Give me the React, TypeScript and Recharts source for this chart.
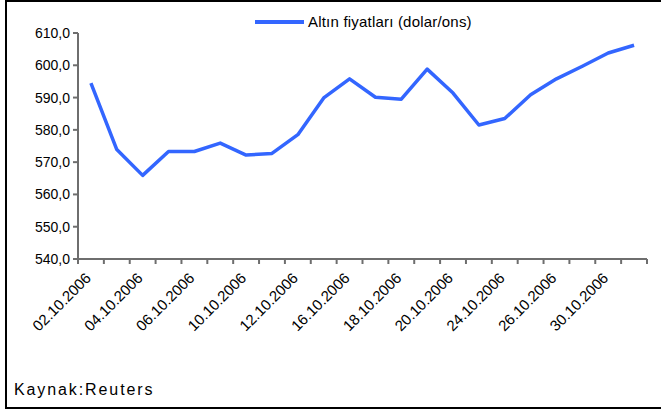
import React from 'react';
import { LineChart, Line, XAxis, YAxis, Legend } from 'recharts';

const dates = [
  '02.10.2006', '03.10.2006', '04.10.2006', '05.10.2006', '06.10.2006',
  '09.10.2006', '10.10.2006', '11.10.2006', '12.10.2006', '13.10.2006',
  '16.10.2006', '17.10.2006', '18.10.2006', '19.10.2006', '20.10.2006',
  '23.10.2006', '24.10.2006', '25.10.2006', '26.10.2006', '27.10.2006',
  '30.10.2006', '31.10.2006',
];
const prices = [
  594.5, 573.9, 565.9, 573.3, 573.3,
  575.9, 572.2, 572.7, 578.5, 589.9,
  595.8, 590.1, 589.5, 598.8, 591.4,
  581.5, 583.5, 590.9, 595.8, 599.7,
  603.8, 606.2,
];
const yTicks = [540, 550, 560, 570, 580, 590, 600, 610];
const seriesName = 'Altın fiyatları (dolar/ons)';
const sourceText = 'Kaynak:Reuters';

const data = dates.map((d, i) => ({ date: d, price: prices[i] }));

const FONT = '"Liberation Sans", Arial, sans-serif';
const W = 661;
const H = 410;
const MARGIN = { top: 33, right: 14, bottom: 61, left: 0 };
const Y_W = 78;
const X_H = 90;
const PLOT_W = W - MARGIN.left - MARGIN.right - Y_W;
const BAND = PLOT_W / dates.length;
const AXIS_COLOR = '#6e6e6e';

const XTick = (props: any) => {
  const { x, y, index, payload } = props;
  const half = BAND / 2;
  const ax = x + 1;
  const ay = y + 20;
  return (
    <g>
      {index === 0 && (
        <line x1={x - half} x2={x - half} y1={y} y2={y + 5} stroke={AXIS_COLOR} strokeWidth={2} />
      )}
      <line x1={x + half} x2={x + half} y1={y} y2={y + 5} stroke={AXIS_COLOR} strokeWidth={2} />
      {index % 2 === 0 && (
        <text
          x={ax}
          y={ay}
          textAnchor="end"
          transform={`rotate(-45, ${ax}, ${ay})`}
          fontSize={15}
          fontFamily={FONT}
          fill="#000"
        >
          {payload.value}
        </text>
      )}
    </g>
  );
};

const LegendContent = (props: any) => {
  const { payload } = props;
  const item = payload && payload[0];
  return (
    <div style={{ display: 'flex', alignItems: 'center', fontFamily: FONT, fontSize: 15, lineHeight: '16px', whiteSpace: 'nowrap' }}>
      <svg width={54} height={8} style={{ display: 'block' }}>
        <line x1={1} x2={50} y1={4} y2={4} stroke={item ? item.color : '#3366FF'} strokeWidth={4} />
      </svg>
      <span style={{ color: '#000', letterSpacing: 0.2 }}>{item ? item.value : seriesName}</span>
    </div>
  );
};

export default function App() {
  return (
    <div style={{ position: 'absolute', left: 0, top: 0, width: W, height: H, background: '#fff', overflow: 'hidden' }}>
      <div
        style={{
          position: 'absolute', left: 5, top: 0, width: W, height: 409,
          boxSizing: 'border-box', borderTop: '2px solid #000', borderLeft: '2px solid #000', borderBottom: '2px solid #000',
        }}
      />
      <div style={{ position: 'absolute', left: 0, top: 0 }}>
        <LineChart width={W} height={H} data={data} margin={MARGIN}>
          <XAxis
            dataKey="date"
            type="category"
            height={X_H}
            interval={0}
            padding={{ left: BAND / 2, right: BAND / 2 }}
            axisLine={{ stroke: AXIS_COLOR, strokeWidth: 2 }}
            tickLine={false}
            tickSize={0}
            tickMargin={0}
            tick={<XTick />}
          />
          <YAxis
            width={Y_W}
            domain={[540, 610]}
            ticks={yTicks}
            interval={0}
            allowDataOverflow
            axisLine={{ stroke: AXIS_COLOR, strokeWidth: 2 }}
            tickLine={{ stroke: AXIS_COLOR, strokeWidth: 2 }}
            tickSize={5}
            tickMargin={3}
            tickFormatter={(v: number) => v.toFixed(1).replace('.', ',')}
            tick={{ fontSize: 14, fontFamily: FONT, fill: '#000' }}
          />
          <Legend
            layout="horizontal"
            verticalAlign="middle"
            align="center"
            content={<LegendContent />}
            wrapperStyle={{ top: 14, left: 254, width: 'auto' }}
          />
          <Line
            type="linear"
            dataKey="price"
            name={seriesName}
            stroke="#3366FF"
            strokeWidth={3.5}
            strokeLinejoin="round"
            dot={false}
            activeDot={false}
            isAnimationActive={false}
          />
        </LineChart>
      </div>
      <div style={{ position: 'absolute', left: 14, top: 382, fontFamily: FONT, fontSize: 16, lineHeight: '16px', letterSpacing: 1.9, color: '#000', whiteSpace: 'nowrap' }}>
        {sourceText}
      </div>
    </div>
  );
}
